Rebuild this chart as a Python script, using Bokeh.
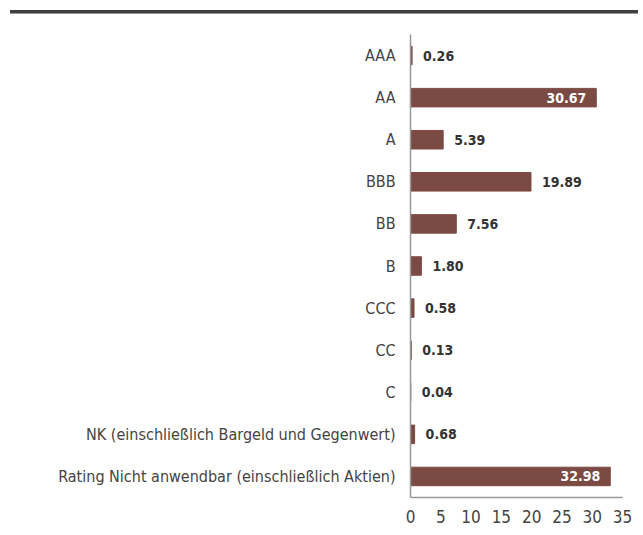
from bokeh.plotting import figure
from bokeh.layouts import column, row
from bokeh.models import ColumnDataSource, FactorRange, Range1d, FixedTicker, Spacer, Div
from bokeh.core.properties import value
from bokeh.embed import file_html
from bokeh.resources import INLINE

categories = ["AAA", "AA", "A", "BBB", "BB", "B", "CCC", "CC", "C",
              "NK (einschließlich Bargeld und Gegenwert)",
              "Rating Nicht anwendbar (einschließlich Aktien)"]
values = [0.26, 30.67, 5.39, 19.89, 7.56, 1.80, 0.58, 0.13, 0.04, 0.68, 32.98]
x_ticks = [0, 5, 10, 15, 20, 25, 30, 35]

FONT = "DejaVu Sans Condensed"
BAR = "#7B4A42"
TXT = "#444444"

labels = ["%.2f" % v for v in values]
inside = [v > 25 for v in values]

src_out = ColumnDataSource(dict(
    y=[c for c, i in zip(categories, inside) if not i],
    x=[v for v, i in zip(values, inside) if not i],
    t=[l for l, i in zip(labels, inside) if not i]))
src_in = ColumnDataSource(dict(
    y=[c for c, i in zip(categories, inside) if i],
    x=[v for v, i in zip(values, inside) if i],
    t=[l for l, i in zip(labels, inside) if i]))

# decorative dark rule at the top of the page
rule = Div(width=628, height=4, margin=0,
           styles={"background-color": "#404040", "border-bottom": "1px solid #9a9a9a"})

p = figure(width=632, height=518, output_backend="svg", toolbar_location=None,
           y_range=FactorRange(*categories[::-1]), x_range=Range1d(0, 35),
           min_border_left=410, min_border_right=10, min_border_top=20, min_border_bottom=35)
p.outline_line_color = None
p.background_fill_color = "white"
p.border_fill_color = "white"

p.hbar(y=categories, right=values, left=0, height=0.44, color=BAR)

p.text(x="x", y="y", text="t", source=src_out, x_offset=11,
       text_align="left", text_baseline="middle", text_color="#333333",
       text_font=value(FONT), text_font_size="14px", text_font_style="bold")
p.text(x="x", y="y", text="t", source=src_in, x_offset=-10,
       text_align="right", text_baseline="middle", text_color="white",
       text_font=value(FONT), text_font_size="14px", text_font_style="bold")

p.xgrid.visible = False
p.ygrid.visible = False

for ax in (p.xaxis[0], p.yaxis[0]):
    ax.major_tick_line_color = None
    ax.minor_tick_line_color = None
    ax.axis_line_color = "#999999"
    ax.axis_line_width = 1.5
    ax.major_label_text_font = FONT
    ax.major_label_text_color = TXT
p.yaxis[0].major_label_text_font_size = "16px"
p.xaxis[0].major_label_text_font_size = "17px"
p.xaxis[0].ticker = FixedTicker(ticks=x_ticks)
p.xaxis[0].major_label_standoff = 6
p.yaxis[0].major_label_standoff = 9

layout = column(Spacer(height=10, margin=0), row(Spacer(width=10, margin=0), rule, spacing=0),
                p, spacing=0)
open("out.html", "w").write(file_html(layout, INLINE))
